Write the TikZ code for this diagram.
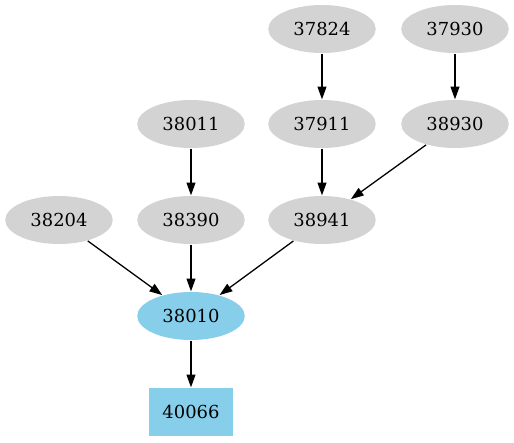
\documentclass[tikz,border=0pt]{standalone}
\usepackage{fontspec}
\setmainfont{DejaVu Serif}
\usetikzlibrary{arrows.meta,shapes.geometric}
\usetikzlibrary{positioning}
\definecolor{nodegray}{HTML}{D3D3D3}
\definecolor{skyblue}{HTML}{87CEEB}
\tikzset{
    job/.style={
           ellipse,
           fill=nodegray,
           minimum width=84pt,
           minimum height=37.5pt,
           inner sep=0pt,
           font=\fontsize{14}{16}\selectfont,
           },
    target/.style={
           job,
           fill=skyblue,
           },
    result/.style={
           rectangle,
           fill=skyblue,
           minimum width=65.5pt,
           minimum height=37.5pt,
           inner sep=0pt,
           font=\fontsize{14}{16}\selectfont,
           },
}

\begin{document}
\begin{tikzpicture}[x=0.7813pt,y=-0.7813pt,->,>={Triangle[length=10pt,width=7pt]},line width=1pt]

 % canvas of the original picture
 \useasboundingbox (0,0) rectangle (514,443);

 % top row
 \node[job] (n37824) at (322,29) {37824};
 \node[job] (n37930) at (455,29) {37930};

 % second row
 \node[job] (n38011) at (191,124) {38011};
 \node[job] (n37911) at (322,124) {37911};
 \node[job] (n38930) at (455,124) {38930};

 % third row
 \node[job] (n38204) at (59,220) {38204};
 \node[job] (n38390) at (191,220) {38390};
 \node[job] (n38941) at (322,220) {38941};

 % the merged one and its output
 \node[target] (n38010) at (191,316) {38010};
 \node[result] (n40066) at (191,412) {40066};

 % draw the edges
 \path (n37824) edge (n37911)
 (n37930) edge (n38930)
 (n38011) edge (n38390)
 (n37911) edge (n38941)
 (n38930) edge (n38941)
 (n38204) edge (n38010)
 (n38390) edge (n38010)
 (n38941) edge (n38010)
 (n38010) edge (n40066);
\end{tikzpicture}
\end{document}
